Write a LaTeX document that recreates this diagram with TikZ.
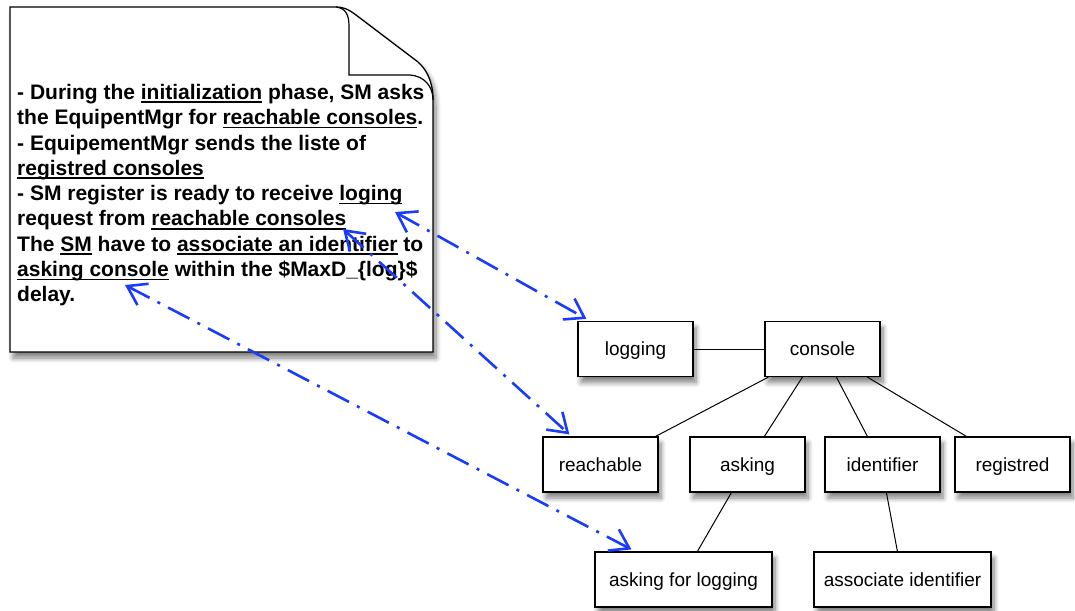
\documentclass[tikz,border=0pt]{standalone}
\usepackage{fontspec}
\setmainfont{Liberation Sans}
\usetikzlibrary{arrows.meta,shadows.blur,positioning}
\definecolor{linkblue}{RGB}{25,60,250}
\newsavebox{\myulbox}
\newcommand{\myul}[1]{\sbox{\myulbox}{#1}\rlap{\vrule height -2pt depth 3.6pt width \wd\myulbox}\usebox{\myulbox}}
\tikzset{
  box/.style={draw=black, line width=1.2pt, fill=white, minimum width=115pt, minimum height=55pt,
    inner sep=0pt, text height=14.5pt, text depth=1pt, font=\fontsize{19}{22}\selectfont,
    blur shadow={shadow xshift=3pt, shadow yshift=-6pt, shadow blur steps=8, shadow blur radius=5pt, shadow opacity=50}},
  wide/.style={box, minimum width=177pt},
  edge/.style={draw=black, line width=1pt},
  tipend/.tip={Straight Barb[length=18pt,width=24pt,line width=2.6pt]},
  link/.style={draw=linkblue, line width=2.6pt, dash pattern=on 24pt off 9pt on 3pt off 9pt, tipend-tipend},
}
\begin{document}
\begin{tikzpicture}[x=1pt,y=-1pt]
\useasboundingbox (0,0) rectangle (1075,610);
% note shape
\path[fill=white, draw=black, line width=1.3pt,
  blur shadow={shadow xshift=3pt, shadow yshift=-6pt, shadow blur steps=8, shadow blur radius=5pt, shadow opacity=50}]
  (10,7) -- (336,7) .. controls (343,7) and (348,9) .. (356,15) -- (418,62)
  .. controls (427,70) and (433,82) .. (433,100) -- (433,352) -- (10,352) -- cycle;
\draw[line width=1.2pt] (336,7) .. controls (345,8) and (349,14) .. (349,26) -- (349,75) -- (410,75)
  .. controls (424,76) and (433,86) .. (433,100);
\node[anchor=north west, align=left, inner sep=0pt, font=\fontsize{21}{25.3}\selectfont\bfseries] (note) at (17,84)
{- During the \myul{initialization} phase, SM asks\\
the EquipentMgr for \myul{reachable consoles}.\\
- EquipementMgr sends the liste of\\
\myul{registred consoles}\\
- SM register is ready to receive \myul{loging}\\
request from \myul{reachable consoles}\\
The \myul{SM} have to \myul{associate an identifier} to\\
\myul{asking console} within the \$MaxD\_\{log\}\$\\
delay.};
\coordinate (tLoging) at (395,212);
\coordinate (tReach) at (343,229);
\coordinate (tAsking) at (125,285);
% nodes
\node[box] (logging) at (635.5,349) {logging};
\node[box] (console) at (822.5,349) {console};
\node[box] (reachable) at (600.5,464.5) {reachable};
\node[box] (asking) at (747.5,464.5) {asking};
\node[box] (identifier) at (882.5,464.5) {identifier};
\node[box] (registred) at (1012.5,464.5) {registred};
\node[wide] (afl) at (683.5,579.5) {asking for logging};
\node[wide] (assoc) at (902.5,579.5) {associate identifier};
% edges
\draw[edge] (logging) -- (console);
\draw[edge] ([xshift=4pt]console.south west) -- ([xshift=-3pt]reachable.north east);
\draw[edge] ([xshift=38pt]console.south west) -- ([xshift=75pt]asking.north west);
\draw[edge] ([xshift=72pt]console.south west) -- ([xshift=43pt]identifier.north west);
\draw[edge] ([xshift=103pt]console.south west) -- ([xshift=12pt]registred.north west);
\draw[edge] ([xshift=42pt]asking.south west) -- ([xshift=103pt]afl.north west);
\draw[edge] ([xshift=62pt]identifier.south west) -- ([xshift=84pt]assoc.north west);
% links
\draw[link] (tLoging) -- ([xshift=9pt,yshift=2pt]logging.north west);
\draw[link] (tReach) -- ([xshift=27pt,yshift=2pt]reachable.north west);
\draw[link] (tAsking) -- ([xshift=37pt,yshift=2pt]afl.north west);
\end{tikzpicture}
\end{document}
